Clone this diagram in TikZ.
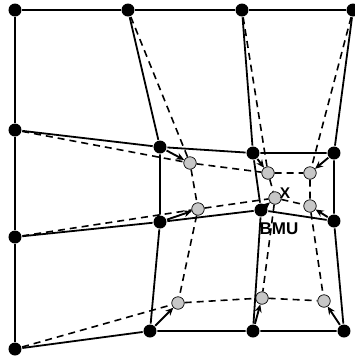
\documentclass[tikz,border=0pt]{standalone}
\usepackage{fontspec}
\setsansfont{Liberation Sans}
\usetikzlibrary{arrows.meta}
\tikzset{
  every picture/.style={line width=1.8pt},
  unit/.style={circle, fill=black, inner sep=0pt, minimum size=13pt},
  moved/.style={circle, draw=black, line width=0.7pt, fill=black!22, inner sep=0pt, minimum size=12.5pt},
  mesh/.style={draw=black},
  newmesh/.style={draw=black, line width=1.6pt, dash pattern=on 7pt off 5pt},
  pull/.style={-{Stealth[length=8pt, width=7pt]}, line width=1.9pt},
  lab/.style={font=\sffamily\bfseries\fontsize{15.5}{17}\selectfont, inner sep=0pt},
}

\begin{document}
\begin{tikzpicture}[x=1pt, y=-1pt]
  \useasboundingbox (0,0) rectangle (355,360);
  % map before the update
  \node[unit] (b00) at (15,10) {};
  \node[unit] (b01) at (128,10) {};
  \node[unit] (b02) at (242,10) {};
  \node[unit] (b03) at (353,10) {};
  \node[unit] (b10) at (15,130) {};
  \node[unit] (b11) at (160,147) {};
  \node[unit] (b12) at (253,153) {};
  \node[unit] (b13) at (334,153) {};
  \node[unit] (b20) at (15,237) {};
  \node[unit] (b21) at (160,222) {};
  \node[unit] (b22) at (261,210) {};
  \node[unit] (b23) at (334,221) {};
  \node[unit] (b30) at (15,349) {};
  \node[unit] (b31) at (150,331) {};
  \node[unit] (b32) at (253,331) {};
  \node[unit] (b33) at (344,331) {};
  % units after the update
  \node[moved] (g11) at (190,163) {};
  \node[moved] (g12) at (268,173) {};
  \node[moved] (g13) at (310,173) {};
  \node[moved] (g21) at (198,209) {};
  \node[moved] (g22) at (275,198) {};
  \node[moved] (g23) at (310,206) {};
  \node[moved] (g31) at (178,303) {};
  \node[moved] (g32) at (262,298) {};
  \node[moved] (g33) at (324,301) {};
  \node[lab] (x) at (285,193) {X};
  \node[lab, font=\sffamily\bfseries\fontsize{17}{19}\selectfont] (bmu) at (279,229) {BMU};

  \draw[mesh] (b00) -- (b01) -- (b02) -- (b03);
  \draw[mesh] (b10) -- (b11) -- (b12) -- (b13);
  \draw[mesh] (b20) -- (b21) -- (b22) -- (b23);
  \draw[mesh] (b30) -- (b31) -- (b32) -- (b33);
  \draw[mesh] (b00) -- (b10) -- (b20) -- (b30);
  \draw[mesh] (b01) -- (b11) -- (b21) -- (b31);
  \draw[mesh] (b02) -- (b12) -- (b22) -- (b32);
  \draw[mesh] (b03) -- (b13) -- (b23) -- (b33);

  \draw[newmesh] (b10) -- (g11) -- (g12) -- (g13);
  \draw[newmesh] (b20) -- (g21) -- (g22) -- (g23);
  \draw[newmesh] (b30) -- (g31) -- (g32) -- (g33);
  \draw[newmesh] (b01) -- (g11) -- (g21) -- (g31);
  \draw[newmesh] (b02) -- (g12) -- (g22) -- (g32);
  \draw[newmesh] (b03) -- (g13) -- (g23) -- (g33);

  \draw[pull] (b11) -- (g11);
  \draw[pull] (b12) -- (g12);
  \draw[pull] (b13) -- (g13);
  \draw[pull] (b21) -- (g21);
  \draw[pull] (b22) -- (g22);
  \draw[pull] (b23) -- (g23);
  \draw[pull] (b31) -- (g31);
  \draw[pull] (b32) -- (g32);
  \draw[pull] (b33) -- (g33);
\end{tikzpicture}
\end{document}
